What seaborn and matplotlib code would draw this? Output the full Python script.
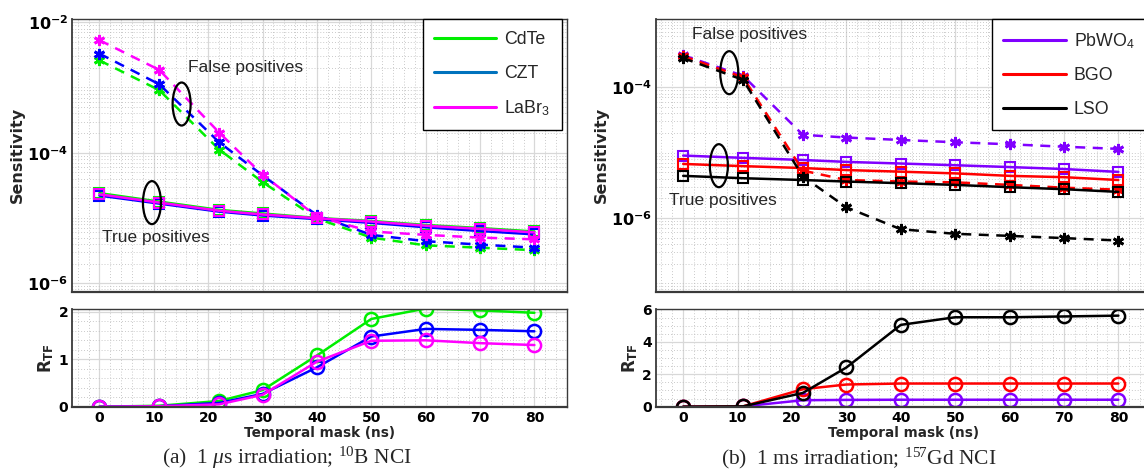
import numpy as np
import pandas as pd
import matplotlib
matplotlib.use("Agg")
import matplotlib.pyplot as plt
import seaborn as sns
from matplotlib.lines import Line2D
from matplotlib.patches import Ellipse
from matplotlib.ticker import FixedLocator, FixedFormatter, MultipleLocator, NullFormatter

# ---------------- data ----------------
mask_ns = [0, 11, 22, 30, 40, 50, 60, 70, 80]
xtick_vals = [0, 10, 20, 30, 40, 50, 60, 70, 80]

fp_a = {
    "CdTe": [2.6e-3, 9.1e-4, 1.12e-4, 3.55e-5, 9.8e-6, 5.0e-6, 3.8e-6, 3.5e-6, 3.2e-6],
    "CZT": [3.3e-3, 1.12e-3, 1.45e-4, 4.5e-5, 1.1e-5, 5.5e-6, 4.4e-6, 3.9e-6, 3.5e-6],
    "LaBr3": [5.3e-3, 1.86e-3, 2.04e-4, 4.6e-5, 1.05e-5, 6.2e-6, 5.5e-6, 5.0e-6, 4.7e-6],
}
tp_a = {
    "CdTe": [2.4e-5, 1.78e-5, 1.33e-5, 1.17e-5, 1.0e-5, 9.0e-6, 7.8e-6, 7.0e-6, 6.2e-6],
    "CZT": [2.2e-5, 1.66e-5, 1.25e-5, 1.09e-5, 9.6e-6, 8.4e-6, 7.2e-6, 6.3e-6, 5.6e-6],
    "LaBr3": [2.3e-5, 1.72e-5, 1.29e-5, 1.13e-5, 9.9e-6, 8.8e-6, 7.6e-6, 6.8e-6, 6.0e-6],
}
rtf_a = {
    "CdTe": [0, 0.02, 0.12, 0.35, 1.08, 1.85, 2.07, 2.03, 1.98],
    "CZT": [0, 0.01, 0.08, 0.27, 0.83, 1.48, 1.64, 1.62, 1.59],
    "LaBr3": [0, 0.01, 0.05, 0.25, 0.95, 1.39, 1.40, 1.34, 1.30],
}

fp_b = {
    "PbWO4": [3.1e-4, 1.5e-4, 1.87e-5, 1.7e-5, 1.56e-5, 1.44e-5, 1.34e-5, 1.23e-5, 1.14e-5],
    "BGO": [3.0e-4, 1.42e-4, 5.3e-6, 3.8e-6, 3.6e-6, 3.5e-6, 3.2e-6, 2.9e-6, 2.7e-6],
    "LSO": [2.8e-4, 1.3e-4, 4.3e-6, 1.45e-6, 6.7e-7, 5.7e-7, 5.3e-7, 4.9e-7, 4.5e-7],
}
tp_b = {
    "PbWO4": [9.0e-6, 8.3e-6, 7.7e-6, 7.2e-6, 6.8e-6, 6.4e-6, 6.0e-6, 5.6e-6, 5.06e-6],
    "BGO": [6.7e-6, 6.2e-6, 5.8e-6, 5.4e-6, 5.1e-6, 4.8e-6, 4.4e-6, 4.2e-6, 3.8e-6],
    "LSO": [4.4e-6, 4.05e-6, 3.8e-6, 3.6e-6, 3.4e-6, 3.2e-6, 2.95e-6, 2.75e-6, 2.5e-6],
}
rtf_b = {
    "PbWO4": [0, 0.02, 0.40, 0.42, 0.43, 0.43, 0.43, 0.43, 0.43],
    "BGO": [0, 0.02, 1.08, 1.37, 1.43, 1.43, 1.43, 1.43, 1.43],
    "LSO": [0, 0.02, 0.85, 2.42, 5.05, 5.52, 5.52, 5.57, 5.62],
}

keys_a = ["CdTe", "CZT", "LaBr3"]
labels_a = ["CdTe", "CZT", "LaBr$_\\mathsf{3}$"]
colors_a = ["#00ee00", "#0000ff", "#ff00ff"]
legend_colors_a = ["#00ee00", "#0072bd", "#ff00ff"]

keys_b = ["PbWO4", "BGO", "LSO"]
labels_b = ["PbWO$_\\mathsf{4}$", "BGO", "LSO"]
colors_b = ["#8000ff", "#ff0000", "#000000"]
legend_colors_b = colors_b

caption_a = r"(a)  1 $\mu$s irradiation; $^{10}$B NCI"
caption_b = r"(b)  1 ms irradiation; $^{157}$Gd NCI"

# ---------------- style ----------------
sns.set_style("white")
plt.rcParams["font.family"] = ["DejaVu Sans"]
plt.rcParams["mathtext.fontset"] = "custom"
plt.rcParams["mathtext.rm"] = "Liberation Serif"
plt.rcParams["mathtext.it"] = "Liberation Serif:italic"
plt.rcParams["mathtext.bf"] = "DejaVu Sans:bold"
plt.rcParams["mathtext.sf"] = "Liberation Sans"

W, H = 1144, 475
fig = plt.figure(figsize=(W / 100, H / 100), dpi=100)
fig.patch.set_facecolor("white")


def frac_box(l, t, r, b):
    return [l / W, 1 - b / H, (r - l) / W, (b - t) / H]


spine_col = "#3a3a3a"
AST = (6, 2, 0)


def style_axes(ax):
    for s in ax.spines.values():
        s.set_color(spine_col)
        s.set_linewidth(1.0)
    ax.spines["bottom"].set_linewidth(1.6)
    ax.spines["left"].set_linewidth(1.3)
    ax.grid(True, which="major", color="#d8d8d8", lw=0.9, ls="-")
    ax.grid(True, which="minor", color="#b8b8b8", lw=0.6, ls=(0, (1, 2.5)))
    ax.set_axisbelow(True)
    ax.tick_params(which="both", direction="in", colors=spine_col,
                   labelcolor="black", top=False, right=False, pad=3)
    ax.tick_params(which="major", length=4, width=0.8)
    ax.tick_params(which="minor", length=2, width=0.6)
    ax.set_xlim(-5, 86)
    ax.xaxis.set_major_locator(FixedLocator(xtick_vals))
    ax.xaxis.set_minor_locator(MultipleLocator(2))


def draw_panel(left, right, keys, labels, colors, leg_colors, fp, tp, rtf,
               ylim_top, ymaj, ymaj_lbl, rt_lim, rt_ticks, rt_minor,
               fp_txt, fp_ell, tp_txt, tp_ell, caption, cap_x, ylab_x):
    ax = fig.add_axes(frac_box(left, 19.3, right, 291.7))
    ax.set_yscale("log")
    for k, c in zip(keys, colors):
        sns.lineplot(x=mask_ns, y=fp[k], ax=ax, color=c, lw=1.8,
                     linestyle=(0, (4, 3)), marker=AST, markersize=8,
                     markeredgewidth=2.0, markeredgecolor=c, markerfacecolor=c,
                     legend=False)
        sns.lineplot(x=mask_ns, y=tp[k], ax=ax, color=c, lw=1.8,
                     linestyle="-", marker="s", markersize=7.5,
                     markeredgewidth=1.5, markeredgecolor=c,
                     markerfacecolor="none", legend=False)
    ax.set_ylim(*ylim_top)
    ax.yaxis.set_major_locator(FixedLocator(ymaj))
    ax.yaxis.set_major_formatter(FixedFormatter(ymaj_lbl))
    mins = []
    for e in range(-9, 0):
        for m in range(1, 10):
            mins.append(m * 10.0 ** e)
    ax.yaxis.set_minor_locator(FixedLocator(mins))
    ax.yaxis.set_minor_formatter(NullFormatter())
    style_axes(ax)
    ax.set_xticklabels([])
    ax.set_xlabel("")
    ax.set_ylabel("")
    for lbl in ax.get_yticklabels():
        lbl.set_fontsize(11.5)
        lbl.set_fontweight("bold")
    fig.text(ylab_x / W, 1 - 155 / H, "Sensitivity", rotation=90,
             ha="center", va="center", fontsize=11.5, fontweight="bold")

    handles = [Line2D([0], [0], color=c, lw=2.2) for c in leg_colors]
    leg = ax.legend(handles, labels, loc="upper right",
                    bbox_to_anchor=(0.99, 1.0), borderaxespad=0,
                    frameon=True, fancybox=False, framealpha=1,
                    edgecolor="black", handlelength=3.5, handletextpad=0.45,
                    labelspacing=0.95, borderpad=0.65,
                    prop={"family": "Liberation Sans", "size": 12.8})
    leg.get_frame().set_linewidth(1.0)
    leg.set_zorder(10)

    ax.text(fp_txt[0], fp_txt[1], "False positives", transform=ax.transAxes,
            ha="left", va="center", fontsize=12.5, family="Liberation Sans")
    ax.text(tp_txt[0], tp_txt[1], "True positives", transform=ax.transAxes,
            ha="left", va="center", fontsize=12.5, family="Liberation Sans")
    for (cx, cy) in (fp_ell, tp_ell):
        ax.add_patch(Ellipse((cx, cy), 18 / (right - left), 43 / 272.4,
                             transform=ax.transAxes, fill=False,
                             edgecolor="black", lw=1.6, zorder=6))

    # ---- bottom R_TF ----
    bx = fig.add_axes(frac_box(left, 309.0, right, 406.7))
    for k, c in zip(keys, colors):
        sns.lineplot(x=mask_ns, y=rtf[k], ax=bx, color=c, lw=1.8,
                     linestyle="-", marker="o", markersize=9.5,
                     markeredgewidth=1.8, markeredgecolor=c,
                     markerfacecolor="none", legend=False)
    bx.set_ylim(*rt_lim)
    bx.yaxis.set_major_locator(FixedLocator(rt_ticks))
    bx.yaxis.set_minor_locator(MultipleLocator(rt_minor))
    style_axes(bx)
    bx.set_xticklabels([str(v) for v in xtick_vals])
    bx.set_yticklabels([str(v) for v in rt_ticks])
    for lbl in bx.get_xticklabels() + bx.get_yticklabels():
        lbl.set_fontsize(10)
        lbl.set_fontweight("bold")
    bx.set_xlabel("Temporal mask (ns)", fontsize=9.8, fontweight="bold",
                  labelpad=1)
    bx.set_ylabel("")
    fig.text((left - 26) / W, 1 - 358 / H, r"$\mathbf{R}_{\mathbf{TF}}$",
             rotation=90, ha="center", va="center", fontsize=12)

    fig.text(cap_x / W, 1 - 458 / H, caption, ha="center",
             va="center", fontsize=15.5, family="Liberation Serif")
    return ax, bx


draw_panel(72.3, 567.0, keys_a, labels_a, colors_a, legend_colors_a,
           fp_a, tp_a, rtf_a,
           (7.4e-7, 1.11e-2), [1e-6, 1e-4, 1e-2],
           [r"$\mathbf{10^{-6}}$", r"$\mathbf{10^{-4}}$", r"$\mathbf{10^{-2}}$"],
           (0, 2.06), [0, 1, 2], 0.2,
           (0.234, 0.822), (0.221, 0.689), (0.061, 0.20), (0.161, 0.327),
           caption_a, 287, 17)

draw_panel(656.0, 1151.0, keys_b, labels_b, colors_b, legend_colors_b,
           fp_b, tp_b, rtf_b,
           (7.4e-8, 1.1e-3), [1e-6, 1e-4],
           [r"$\mathbf{10^{-6}}$", r"$\mathbf{10^{-4}}$"],
           (0, 6.03), [0, 2, 4, 6], 0.5,
           (0.073, 0.945), (0.148, 0.804), (0.026, 0.333), (0.127, 0.4626),
           caption_b, 859, 601)

fig.savefig("out.png", dpi=100, facecolor="white")
